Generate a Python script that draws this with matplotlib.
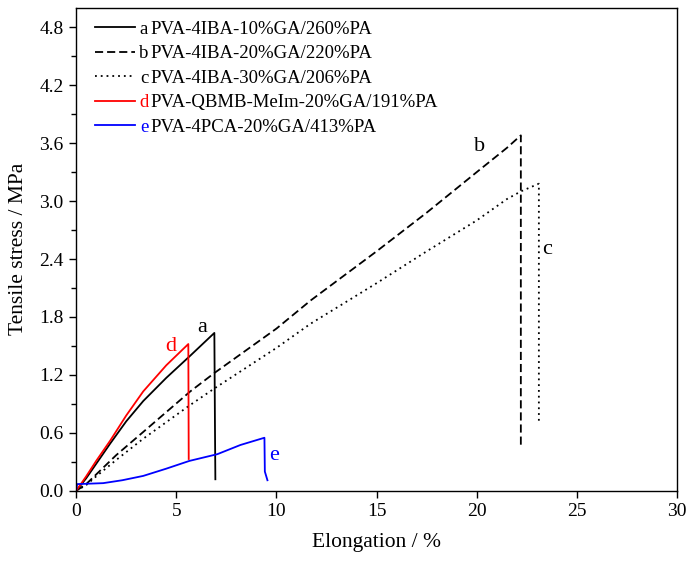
import matplotlib
matplotlib.use("Agg")
import matplotlib.pyplot as plt
from matplotlib.ticker import MultipleLocator

plt.rcParams["font.family"] = ["Liberation Serif", "DejaVu Serif"]

# curve data (elongation %, stress MPa)
a_x = [0, 0.5, 1, 1.7, 2.5, 3.35, 4.5, 5.7, 6.9, 6.93, 6.95]
a_y = [0, 0.13, 0.28, 0.49, 0.72, 0.93, 1.17, 1.40, 1.635, 0.67, 0.12]

b_x = [0, 0.5, 1, 2, 3.35, 5.7, 6.9, 10, 11.7, 15, 17.5, 20, 21.5, 22.2, 22.2]
b_y = [0, 0.07, 0.17, 0.37, 0.61, 1.03, 1.22, 1.68, 1.97, 2.48, 2.88, 3.3, 3.55, 3.68, 0.47]

c_x = [0, 0.5, 1, 2, 3.35, 5.7, 6.9, 10, 11.7, 15, 17.5, 20, 21.5, 22.2, 23.1, 23.1]
c_y = [0, 0.06, 0.15, 0.32, 0.54, 0.89, 1.06, 1.48, 1.73, 2.15, 2.48, 2.8, 3.02, 3.10, 3.18, 0.70]

d_x = [0, 0.5, 1, 1.7, 2.5, 3.35, 4.5, 5.6, 5.62]
d_y = [0, 0.15, 0.31, 0.52, 0.78, 1.03, 1.30, 1.52, 0.33]

e_x = [0, 0.05, 1.35, 2.3, 3.35, 4.5, 5.65, 7.05, 8.2, 9.4, 9.42, 9.55]
e_y = [0, 0.07, 0.08, 0.11, 0.155, 0.23, 0.31, 0.38, 0.475, 0.55, 0.2, 0.11]

letters = ["a", "b", "c", "d", "e"]
names = [
    "PVA-4IBA-10%GA/260%PA",
    "PVA-4IBA-20%GA/220%PA",
    "PVA-4IBA-30%GA/206%PA",
    "PVA-QBMB-MeIm-20%GA/191%PA",
    "PVA-4PCA-20%GA/413%PA",
]
colors = ["black", "black", "black", "red", "blue"]
styles = ["-", (0, (4.5, 2.2)), (0, (1, 2.2)), "-", "-"]

# where the curve letters sit in the plot (baseline)
tag_x = [6.3, 20.15, 23.5, 4.7, 9.9]
tag_y = [1.64, 3.52, 2.45, 1.45, 0.32]

fig = plt.figure(figsize=(6.86, 5.61), dpi=100)
ax = fig.add_axes([0.111, 0.125, 0.876, 0.861])

xs = [a_x, b_x, c_x, d_x, e_x]
ys = [a_y, b_y, c_y, d_y, e_y]
lines = []
for x, y, col, ls in zip(xs, ys, colors, styles):
    (ln,) = ax.plot(x, y, color=col, linestyle=ls, linewidth=1.3)
    lines.append(ln)

for lt, tx, ty, col in zip(letters, tag_x, tag_y, colors):
    ax.text(tx, ty, lt, color=col, fontsize=16, ha="center", va="baseline")

ax.set_xlim(0, 30)
ax.set_ylim(0, 5.0)
ax.xaxis.set_major_locator(MultipleLocator(5))
ax.yaxis.set_major_locator(MultipleLocator(0.6))
ax.yaxis.set_minor_locator(MultipleLocator(0.3))
ax.yaxis.set_major_formatter(plt.FuncFormatter(lambda v, p: f"{v:.1f}"))
ax.tick_params(direction="out", labelsize=14, length=5, width=1, pad=4)
ax.tick_params(which="minor", direction="out", length=3.5, width=1)
for sp in ax.spines.values():
    sp.set_linewidth(1.0)

ax.set_xlabel("Elongation / %", fontsize=15.5, labelpad=9)
ax.set_ylabel("Tensile stress / MPa", fontsize=15.5, labelpad=8)

leg = ax.legend(lines, names, loc="upper left", bbox_to_anchor=(0.003, 1.008),
                frameon=False, fontsize=13.5, handlelength=2.13, handletextpad=0.85,
                labelspacing=0.39, borderaxespad=0.5)

# colored letters in front of each legend label
fig.canvas.draw()
r = fig.canvas.get_renderer()
inv = fig.transFigure.inverted()
for t, lt, col in zip(leg.get_texts(), letters, colors):
    bb = t.get_window_extent(r)
    x0, y0 = inv.transform((bb.x0 - 2.5, bb.y0))
    fig.text(x0, y0, lt, color=col, fontsize=13.5, ha="right", va="bottom")

fig.savefig("out.png", dpi=100)
